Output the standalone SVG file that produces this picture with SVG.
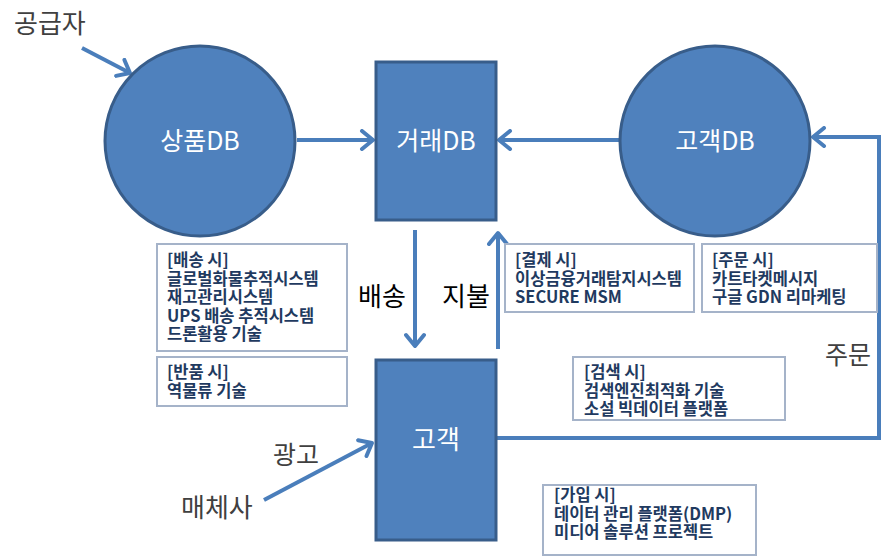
<svg xmlns="http://www.w3.org/2000/svg" width="888" height="558" viewBox="0 0 888 558">
<defs>
<style>
.node{fill:#4f81bd;stroke:#385d8a;stroke-width:3}
.nlabel{font-family:"Noto Sans CJK KR","Liberation Sans",sans-serif;font-size:25px;fill:#ffffff;text-anchor:middle}
.label{font-family:"Noto Sans CJK KR","Liberation Sans",sans-serif;font-size:25px;fill:#404040}
.box{fill:#ffffff;stroke:#a5b3c9;stroke-width:2}
.btext{font-family:"Noto Sans CJK KR","Liberation Sans",sans-serif;font-size:16.5px;font-weight:bold;fill:#1f3a60}
.conn{fill:none;stroke:#4a7ebb;stroke-width:4}
</style>
<marker id="ah" viewBox="-14 -11 17 22" refX="0" refY="0" markerWidth="17" markerHeight="22" orient="auto" markerUnits="userSpaceOnUse">
<path d="M-11,-9 L0,0 L-11,9" fill="none" stroke="#4a7ebb" stroke-width="4" stroke-linecap="round" stroke-linejoin="round"/>
</marker>
</defs>
<rect width="888" height="558" fill="#ffffff"/>

<g id="connectors">
<line class="conn" x1="82" y1="48" x2="130" y2="73" marker-end="url(#ah)"/>
<line class="conn" x1="297" y1="140" x2="373" y2="140" marker-end="url(#ah)"/>
<line class="conn" x1="620" y1="140" x2="499" y2="140" marker-end="url(#ah)"/>
<line class="conn" x1="415" y1="230" x2="415" y2="346" marker-end="url(#ah)"/>
<line class="conn" x1="498" y1="349" x2="498" y2="233" marker-end="url(#ah)"/>
<polyline class="conn" points="497,438 879,438 879,137 813,137" marker-end="url(#ah)"/>
<line class="conn" x1="264" y1="500" x2="372" y2="443" marker-end="url(#ah)"/>
</g>

<g id="supplier"><text class="label" x="14" y="33" style="font-size:26px">공급자</text></g>
<g id="product-db">
<circle class="node" cx="200" cy="141" r="95"/>
<text class="nlabel" x="200" y="150">상품DB</text>
</g>
<g id="trade-db">
<rect class="node" x="376" y="62" width="120" height="158"/>
<text class="nlabel" x="436" y="150">거래DB</text>
</g>
<g id="customer-db">
<circle class="node" cx="715" cy="141" r="95"/>
<text class="nlabel" x="715" y="150">고객DB</text>
</g>
<g id="customer">
<rect class="node" x="376" y="360" width="120" height="180"/>
<text class="nlabel" x="436" y="449" style="font-size:26px">고객</text>
</g>
<g id="label-delivery"><text class="label" x="358" y="306" style="fill:#000;font-size:26px">배송</text></g>
<g id="label-payment"><text class="label" x="442" y="306" style="fill:#000;font-size:26px">지불</text></g>
<g id="label-order"><text class="label" x="825" y="364">주문</text></g>
<g id="label-ad"><text class="label" x="273" y="464">광고</text></g>
<g id="media"><text class="label" x="181" y="517" style="font-size:26px">매체사</text></g>

<g id="box-delivery">
<rect class="box" x="157" y="244" width="190" height="107"/>
<text class="btext"><tspan x="167" y="266">[배송 시]</tspan><tspan x="167" y="284.5">글로벌화물추적시스템</tspan><tspan x="167" y="303">재고관리시스템</tspan><tspan x="167" y="321.5">UPS 배송 추적시스템</tspan><tspan x="167" y="340">드론활용 기술</tspan></text>
</g>
<g id="box-return">
<rect class="box" x="157" y="357" width="190" height="49"/>
<text class="btext"><tspan x="167" y="378">[반품 시]</tspan><tspan x="167" y="396.5">역물류 기술</tspan></text>
</g>
<g id="box-payment">
<rect class="box" x="505" y="244" width="189" height="68"/>
<text class="btext"><tspan x="515" y="266">[결제 시]</tspan><tspan x="515" y="284.5">이상금융거래탐지시스템</tspan><tspan x="515" y="303">SECURE MSM</tspan></text>
</g>
<g id="box-order">
<rect class="box" x="702" y="244" width="175" height="68"/>
<text class="btext"><tspan x="712" y="266">[주문 시]</tspan><tspan x="712" y="284.5">카트타켓메시지</tspan><tspan x="712" y="303">구글 GDN 리마케팅</tspan></text>
</g>
<g id="box-search">
<rect class="box" x="573" y="357" width="212" height="63"/>
<text class="btext"><tspan x="584" y="378">[검색 시]</tspan><tspan x="584" y="396.5">검색엔진최적화 기술</tspan><tspan x="584" y="415">소설 빅데이터 플랫폼</tspan></text>
</g>
<g id="box-join">
<rect class="box" x="543" y="485" width="213" height="70"/>
<text class="btext"><tspan x="554" y="501">[가입 시]</tspan><tspan x="554" y="519.5">데이터 관리 플랫폼(DMP)</tspan><tspan x="554" y="538">미디어 솔루션 프로젝트</tspan></text>
</g>
</svg>
